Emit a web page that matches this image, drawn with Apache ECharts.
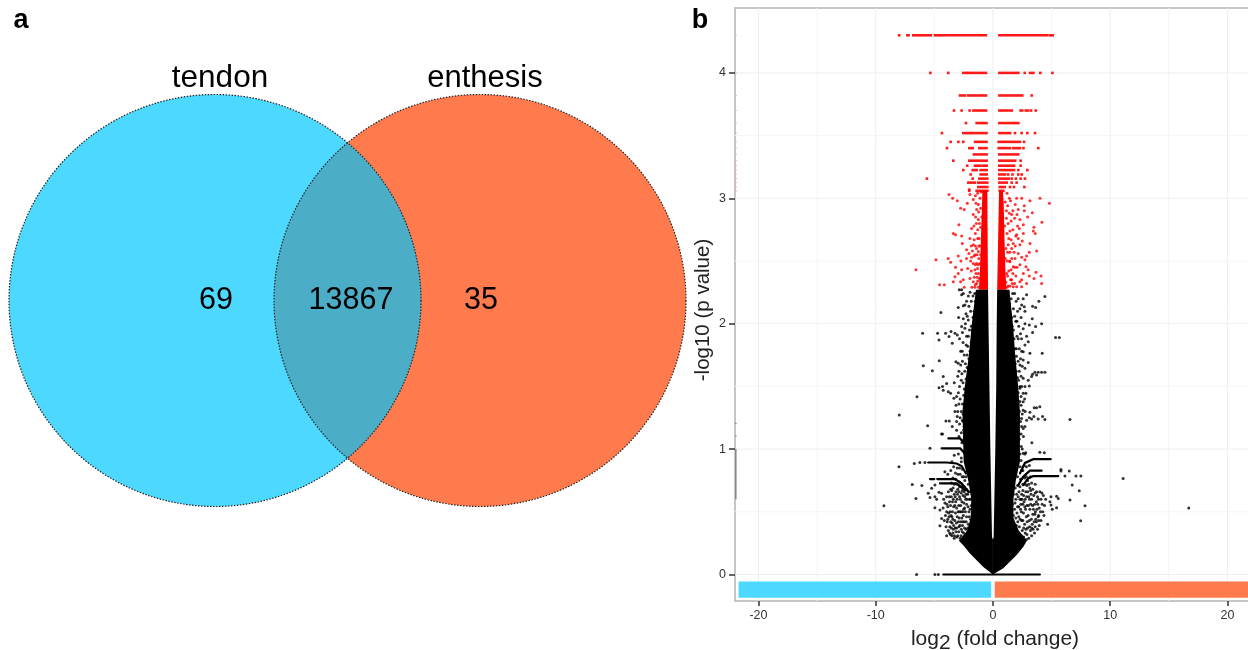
<!DOCTYPE html>
<html><head><meta charset="utf-8">
<style>html,body{margin:0;padding:0;background:#fff}#c{width:1248px;height:650px}</style>
<script src="https://cdn.jsdelivr.net/npm/echarts@6/dist/echarts.min.js"></script>
</head><body><div id="c"></div>
<script>
const vennSetNames = ['tendon', 'enthesis'];
const vennCounts = [69, 13867, 35];
const xTicks = [-20, -10, 0, 10, 20];
const yTicks = [0, 1, 2, 3, 4];
const xMinorGrid = [-15, -5, 5, 15];
const yMinorGrid = [0.5, 1.5, 2.5, 3.5];

// red rows of tied p values: [y, x from, x to]
const redRows = [
[4.30,-8.0,-8.0],[4.30,-7.3,-7.2],[4.30,-6.8,-5.3],[4.30,-4.95,-4.25],[4.30,-4.1,-0.6],[4.30,0.55,4.64],[4.30,4.87,5.1],
[4.0,-5.34,-5.34],[4.0,-3.81,-3.81],[4.0,-2.53,-2.3],[4.0,-2.15,-0.59],[4.0,0.55,2.17],[4.0,2.71,2.71],[4.0,3.16,3.45],[4.0,4.04,4.04],[4.0,5.07,5.07],
[3.82,-2.81,-2.38],[3.82,-2.1,-1.8],[3.82,-1.62,-0.59],[3.82,0.55,1.88],[3.82,2.08,2.5],[3.82,3.3,3.3],
[3.70,-3.32,-3.32],[3.70,-2.67,-2.67],[3.70,-1.99,-1.99],[3.70,-1.67,-0.59],[3.70,0.55,1.17],[3.70,1.4,1.6],[3.70,2.36,2.5],[3.70,2.8,3.0],[3.70,3.25,3.25],[3.70,3.65,3.65],
[3.60,-2.3,-2.3],[3.60,-1.39,-0.55],[3.60,0.55,2.17],
[3.52,-4.35,-4.35],[3.52,-2.53,-2.4],[3.52,-2.2,-1.96],[3.52,-1.82,-0.55],[3.52,0.55,1.46],[3.52,1.88,1.88],[3.52,2.45,2.45],[3.52,2.93,2.93],[3.52,3.59,3.59],
[3.45,-3.61,-3.61],[3.45,-2.95,-2.95],[3.45,-2.53,-2.53],[3.45,-1.53,-0.55],[3.45,0.49,2.3],[3.45,2.65,2.65],
[3.40,-3.92,-3.92],[3.40,-2.01,-1.73],[3.40,-1.16,-0.55],[3.40,0.49,1.46],[3.40,1.74,2.3],[3.40,2.6,2.6],[3.40,3.87,3.87],
[3.35,-1.62,-0.54],[3.35,0.54,2.16],
[3.30,-3.38,-3.38],[3.30,-2.02,-0.54],[3.30,0.54,1.9],[3.30,2.36,2.36],
[3.26,-2.19,-2.19],[3.26,-1.53,-1.1],[3.26,-0.88,-0.54],[3.26,0.54,1.8],[3.26,2.36,2.36],
[3.225,-2.53,-2.53],[3.225,-1.73,-1.39],[3.225,-1.05,-0.54],[3.225,0.54,1.03],[3.225,1.22,1.8],[3.225,2.16,2.16],[3.225,2.93,2.93],
[3.19,-1.9,-1.9],[3.19,-1.05,-0.54],[3.19,0.54,1.03],[3.19,1.3,1.3],[3.19,1.67,1.67],[3.19,2.16,2.16],[3.19,2.45,2.45],
[3.157,-5.63,-5.63],[3.157,-1.73,-1.73],[3.157,-1.16,-0.48],[3.157,0.54,1.35],[3.157,1.6,1.6],[3.157,1.96,1.96],[3.157,2.36,2.36],[3.157,2.73,2.73],
[3.125,-2.1,-1.53],[3.125,-1.25,-0.48],[3.125,0.54,1.17],[3.125,1.6,1.6],[3.125,2.02,2.02],
[3.09,-1.25,-0.48],[3.09,0.58,1.0],[3.09,1.45,1.45],[3.09,1.8,1.8],[3.09,2.68,2.68],
[3.06,-2.02,-2.02],[3.06,-1.39,-0.48],[3.06,0.58,0.88]
];

const redCoreLeft = [[-0.42,2.27],[-1.2,2.27],[-1.1,2.45],[-1.02,2.7],[-0.95,2.9],[-0.9,3.06],[-0.48,3.06]];
const redCoreRight = [[0.36,2.27],[1.15,2.27],[1.05,2.45],[0.98,2.7],[0.92,2.95],[0.85,3.06],[0.52,3.06]];

const redPoints = [
[-3.75,3.03],[-3.44,3.0],[-3.04,2.98],[-2.76,2.92],[-2.45,2.91],[-2.19,2.96],[-1.68,2.99],[-2.9,2.79],[-3.38,2.72],[-3.19,2.71],[-2.67,2.70],[-2.62,2.64],[-1.82,2.76],[-1.96,2.68],[-1.68,2.87],[-1.48,2.85],[-4.86,2.51],[-3.81,2.52],[-3.61,2.49],[-2.96,2.54],[-2.25,2.52],[-1.82,2.53],[-3.19,2.45],[-2.73,2.50],[-2.67,2.43],[-2.16,2.44],[-6.57,2.43],[-2.96,2.40],[-3.24,2.375],[-3.38,2.335],[-4.55,2.31],[-4.15,2.31],[-2.53,2.35],[-2.76,2.335],[-2.45,2.29],[-1.96,2.36],[-1.68,2.335],[-2.25,2.59],[-1.68,2.63],[-1.54,2.55],[-1.25,2.575],[-1.39,2.48],[-1.68,2.48],[-1.54,2.43],[-1.25,2.40],[-1.39,2.32],[-0.97,2.35],[-1.11,2.48],[-1.19,2.68],[-1.05,2.77],[-1.25,2.83],[-1.39,2.91],[-1.25,2.95],[-2.02,3.07],[-1.96,3.03],[-1.1,3.0],[-1.05,2.92],[-1.3,2.75],[-1.5,2.72],[-1.62,2.78],[-1.1,2.62],[-1.4,2.6],[-1.2,2.52],[-1.05,2.55],[-1.45,2.4],[-1.15,2.36],[-1.8,2.29],[-1.55,2.29],[-1.25,2.29],[-1.85,2.42],[-1.0,3.05],[-0.95,2.85],[-1.32,2.44],[-1.6,2.67],[-1.75,2.58],
[-1.3,3.04],[-1.5,3.02],[-1.22,2.89],[-1.45,2.96],[-1.15,2.8],[-1.42,2.8],[-1.3,2.68],[-1.5,2.62],[-1.2,2.62],[-1.35,2.55],[-1.6,2.54],[-1.5,2.47],[-1.25,2.47],[-1.35,2.37],[-1.6,2.37],[-1.3,2.34],[-1.5,2.31],[-1.9,2.5],[-2.05,2.56],[-1.85,2.62],
[4.01,3.0],[4.81,2.96],[3.16,2.98],[2.45,3.0],[2.02,3.0],[2.67,2.94],[2.67,2.9],[2.16,2.91],[3.36,2.885],[2.96,2.85],[2.3,2.83],[4.18,2.81],[3.5,2.77],[3.44,2.74],[3.61,2.72],[2.59,2.79],[2.25,2.76],[2.02,2.71],[2.59,2.72],[2.16,2.68],[1.73,2.64],[2.3,2.63],[3.16,2.64],[3.73,2.58],[3.1,2.57],[2.87,2.54],[2.73,2.51],[2.16,2.56],[2.45,2.53],[1.88,2.52],[1.45,2.57],[1.73,2.455],[2.3,2.47],[2.82,2.455],[3.67,2.41],[4.1,2.38],[3.1,2.38],[3.5,2.36],[2.59,2.4],[4.15,2.32],[2.87,2.32],[2.3,2.335],[2.02,2.295],[1.59,2.35],[1.73,2.295],[2.45,2.295],[1.17,2.4],[1.45,2.495],[1.3,2.63],[1.05,2.97],[1.25,2.94],[1.5,2.98],[1.7,2.9],[1.4,2.88],[1.15,2.84],[1.0,2.78],[1.55,2.82],[1.85,2.84],[1.2,2.72],[1.45,2.74],[1.7,2.75],[1.1,2.6],[1.55,2.67],[1.9,2.62],[1.2,2.5],[1.6,2.52],[2.05,2.45],[1.35,2.42],[1.95,2.38],[1.1,2.33],[1.3,2.3],[1.85,2.32],[1.55,2.43],[1.05,2.52],[2.1,2.78],[1.9,2.95],[2.5,2.66],[3.0,2.43],
[1.2,3.04],[1.4,3.0],[1.15,2.9],[1.3,2.8],[1.6,2.87],[1.35,2.68],[1.6,2.6],[1.25,2.57],[1.8,2.57],[1.4,2.5],[1.7,2.4],[1.25,2.38],[1.5,2.35],[1.2,2.29],[1.45,2.3],[1.65,2.32],[1.85,2.45],[1.95,2.7],[2.05,2.87],[2.45,2.35]
];

const blackCoreLeft = [[0,0],[-0.82,0.06],[-1.96,0.168],[-2.53,0.234],[-2.9,0.27],[-2.2,0.35],[-1.9,0.45],[-1.85,0.6],[-2.1,0.75],[-2.5,0.9],[-2.55,1.1],[-2.6,1.3],[-2.4,1.5],[-2.05,1.75],[-1.8,2.0],[-1.45,2.27],[-0.42,2.27],[-0.38,2.0],[-0.3,1.5],[-0.22,1.0],[-0.14,0.6],[-0.08,0.3],[0,0.28]];
const blackCoreRight = [[0,0],[0.88,0.05],[2.02,0.155],[2.58,0.22],[2.9,0.27],[2.2,0.35],[1.75,0.45],[1.75,0.6],[1.95,0.75],[2.3,0.9],[2.3,1.1],[2.3,1.3],[2.15,1.5],[1.9,1.75],[1.7,2.0],[1.4,2.27],[0.36,2.27],[0.32,2.0],[0.28,1.5],[0.2,1.0],[0.12,0.6],[0.06,0.3],[0,0.28]];

// tails of tied p values, as polylines of [x, y]
const blackTails = [
[[-5.52,0.893],[-3.95,0.893],[-3.1,0.885],[-2.67,0.865],[-2.3,0.806]],
[[-5.37,0.761],[-5.0,0.761]],
[[-4.75,0.761],[-3.24,0.761],[-2.67,0.727],[-2.1,0.66]],
[[-4.52,0.727],[-3.1,0.727],[-2.39,0.673]],
[[-4.38,1.006],[-2.8,1.006],[-2.53,0.979],[-2.19,0.926]],
[[-3.8,1.085],[-2.8,1.085],[-2.3,1.03]],
[[-4.24,0],[4.0,0]],
[[4.92,0.92],[3.44,0.92],[2.73,0.89],[2.3,0.806]],
[[4.15,0.828],[3.15,0.828],[2.58,0.78],[2.16,0.713]],
[[5.57,0.785],[3.44,0.785],[3.0,0.766],[2.58,0.713]]
];

const blackPoints = [
// far points
[11.1,0.765],[16.7,0.53],[-9.3,0.548],[7.85,0.548],[7.48,0.429],[7.5,0.785],[7.08,0.785],[7.36,0.668],[6.76,0.713],[6.57,0.594],[6.14,0.785],[6.51,0.825],[5.8,0.838],[5.8,0.825],[-8.02,0.86],[-7.99,1.272],[6.57,1.237],[5.34,1.89],[5.66,1.89],[-6.51,0],[-4.95,0],[-4.66,0],
// lower left fringe
[-6.71,0.886],[-6.23,0.894],[-5.8,0.894],[-5.37,1.006],[-6.88,0.718],[-6.06,0.71],[-6.57,0.607],[-4.95,0.62],[-5.37,0.615],[-5.52,0.647],[-5.23,0.687],[-4.95,0.713],[-4.38,0.647],[-4.8,0.6],[-4.95,0.532],[-4.52,0.389],[-4.52,0.514],[-4.38,0.447],[-4.3,1.12],[-4.6,0.655],[-4.2,0.6],[-4.1,0.57],[-4.25,0.53],[-3.95,0.62],[-3.8,0.66],[-3.6,0.68],[-3.4,0.69],[-3.95,0.5],[-4.05,0.47],[-3.85,0.54],[-3.7,0.58],[-3.55,0.62],[-3.3,0.64],[-3.15,0.66],[-3.0,0.68],[-2.85,0.7],[-2.6,0.71],[-2.4,0.62],[-2.25,0.68],[-2.1,0.72],[-1.95,0.75],[-3.9,0.42],[-4.0,0.38],[-3.8,0.35],[-3.95,0.31],[-3.7,0.33],[-3.5,0.31],[-3.3,0.29],[-3.6,0.42],[-3.75,0.46],[-3.45,0.5],[-3.25,0.55],[-3.05,0.6],[-2.85,0.62],[-2.65,0.58],[-2.5,0.52],[-2.25,0.56],[-2.0,0.6],[-1.85,0.66],[-3.55,0.37],[-3.35,0.39],[-3.15,0.34],[-3.0,0.31],[-2.8,0.29],[-3.25,0.43],[-3.05,0.46],[-2.85,0.5],[-2.65,0.45],[-2.45,0.42],[-2.25,0.46],[-2.05,0.5],[-1.85,0.55],[-1.7,0.6],[-2.9,0.38],[-2.7,0.36],[-2.5,0.33],[-2.3,0.36],[-2.1,0.4],[-1.9,0.44],[-3.1,0.53],[-2.75,0.55],[-2.35,0.5],[-3.45,0.58],[-3.65,0.5],[-4.15,0.43],[-3.2,0.49],[-2.55,0.63],[-2.15,0.64],[-1.8,0.4],[-1.7,0.49],[-1.6,0.66],[-2.95,0.42],[-2.6,0.39],[-3.5,0.46],[-2.7,0.65],[-3.3,0.72],[-3.55,0.73],[-2.9,0.74],[-2.5,0.78],[-2.8,0.8],[-3.2,0.81],[-2.6,0.84],[-3.05,0.85],[-3.6,0.83],[-4.1,0.82],[-3.85,0.8],[-2.95,0.96],[-3.3,0.95],[-2.7,0.93],[-2.55,1.07],[-3.1,1.15],[-2.7,1.13],[-2.45,1.18],
[-3.92,0.56],[-3.78,0.49],[-3.62,0.55],[-3.58,0.47],[-3.42,0.44],[-3.38,0.36],[-3.22,0.37],[-3.12,0.41],[-3.08,0.3],[-2.92,0.34],[-2.88,0.45],[-2.72,0.31],[-2.62,0.34],[-2.58,0.42],[-2.42,0.37],[-2.38,0.31],[-2.28,0.42],[-2.15,0.37],[-2.02,0.46],[-1.95,0.52],[-2.12,0.54],[-2.32,0.6],[-2.48,0.57],[-2.58,0.5],[-2.72,0.5],[-2.92,0.55],[-2.98,0.5],[-3.18,0.58],[-3.35,0.54],[-3.48,0.41],[-3.68,0.38],[-3.85,0.44],[-3.72,0.62],[-3.52,0.67],[-3.38,0.6],[-3.22,0.62],[-3.02,0.64],[-2.9,0.66],[-2.78,0.6],[-2.62,0.67],[-2.45,0.66],[-2.3,0.64],[-2.2,0.6],[-2.05,0.66],[-1.92,0.6],[-2.75,0.42],[-2.52,0.47],[-2.42,0.53],[-3.1,0.37],[-2.82,0.39],[-3.28,0.31],[-3.62,0.32],[-3.42,0.33],[-2.55,0.28],[-2.45,0.7],[-2.75,0.73],[-3.05,0.72],[-3.18,0.76],[-3.42,0.77],[-2.62,0.78],[-2.4,0.75],[-2.3,0.78],[-3.0,0.8],[-2.85,0.85],[-2.7,0.9],[-3.35,0.86],[-3.5,0.9],
// mid left fringe
[-4.44,2.09],[-6.0,1.924],[-4.72,1.924],[-4.6,1.87],[-4.04,1.924],[-3.75,1.897],[-3.58,1.937],[-3.47,1.844],[-3.24,1.924],[-3.04,1.91],[-5.94,1.665],[-4.58,1.705],[-5.17,1.625],[-4.24,1.578],[-3.95,1.524],[-4.6,1.49],[-4.24,1.47],[-4.3,1.5],[-6.48,1.418],[-5.57,1.187],[-4.38,1.12],[-3.81,1.458],[-3.61,1.445],[-3.33,1.405],[-3.24,1.3],[-4.01,1.224],[-3.72,1.224],[-3.47,1.18],[-3.16,1.697],[-2.96,1.684],[-2.87,2.27],[-2.67,2.27],[-2.53,2.24],[-2.67,2.23],[-2.96,2.13],[-2.93,2.05],[-2.53,2.144],[-2.39,2.15],[-2.3,2.08],[-2.19,2.06],[-2.53,2.04],[-2.1,2.03],[-2.67,1.977],[-2.39,1.963],[-2.0,1.95],[-2.25,1.9],[-2.85,1.88],[-2.55,1.85],[-2.15,1.82],[-1.85,1.85],[-2.75,1.78],[-2.45,1.75],[-2.05,1.72],[-1.75,1.95],[-1.6,2.1],[-1.85,2.18],[-2.1,2.22],[-1.55,2.24],[-1.45,1.97],[-1.7,2.05],[-2.9,1.62],[-2.65,1.6],[-2.85,1.5],[-2.55,1.53],[-2.3,1.56],[-3.1,1.42],[-2.8,1.4],[-2.5,1.43],[-2.2,1.42],[-3.0,1.3],[-2.7,1.3],[-2.45,1.32],[-3.3,1.53],[-3.0,1.58],[-2.2,1.65],[-1.95,1.62],[-3.1,1.22],[-2.85,1.2],[-2.6,1.23],[-1.6,1.7],[-2.35,1.68],[-2.6,1.7],
[-1.35,2.25],[-1.5,2.18],[-1.7,2.22],[-1.95,2.25],[-2.25,2.18],[-1.38,2.12],[-1.55,2.02],[-1.9,2.1],[-2.05,2.14],[-1.65,1.92],[-1.85,1.98],[-2.1,1.9],[-2.35,2.0],[-1.55,1.83],[-1.72,1.8],[-1.95,1.78],[-2.28,1.83],[-2.6,1.93],[-1.85,1.7],[-2.2,1.75],[-2.62,1.78],[-1.95,1.55],[-2.1,1.6],[-2.4,1.62],[-2.75,1.67],[-2.2,1.5],[-2.45,1.48],[-2.7,1.55],[-2.95,1.45],[-2.35,1.38],[-2.6,1.36],[-2.9,1.36],[-3.15,1.35],[-2.55,1.28],[-2.8,1.25],[-3.05,1.26],[-2.5,1.15],[-2.9,1.1],[-2.65,1.05],[-2.45,0.98],[-2.55,1.22],
// lower right fringe
[4.0,0.974],[4.38,0.971],[3.32,1.05],[2.58,0.966],[2.8,0.97],[5.43,0.625],[5.57,0.607],[4.95,0.62],[4.86,0.58],[4.95,0.554],[5.06,0.52],[5.43,0.532],[4.66,0.4],[4.5,0.6],[4.3,0.63],[4.4,0.55],[4.25,0.5],[4.35,0.47],[4.1,0.43],[3.95,0.39],[3.8,0.36],[3.55,0.33],[3.3,0.31],[3.05,0.29],[2.85,0.28],[4.1,0.6],[4.0,0.66],[3.8,0.62],[3.6,0.65],[3.4,0.68],[3.15,0.69],[2.9,0.71],[3.95,0.53],[3.75,0.52],[3.55,0.56],[3.3,0.6],[3.05,0.62],[2.8,0.66],[2.55,0.67],[2.3,0.7],[2.1,0.71],[1.9,0.69],[3.85,0.46],[3.65,0.44],[3.4,0.48],[3.15,0.52],[2.9,0.55],[2.65,0.58],[2.4,0.6],[2.15,0.62],[1.95,0.6],[1.75,0.64],[3.6,0.38],[3.35,0.4],[3.1,0.43],[2.85,0.46],[2.6,0.49],[2.35,0.52],[2.1,0.54],[1.85,0.52],[1.65,0.56],[3.2,0.35],[2.95,0.37],[2.7,0.4],[2.45,0.43],[2.2,0.46],[1.95,0.45],[1.75,0.47],[2.75,0.33],[2.5,0.35],[2.25,0.38],[2.0,0.39],[3.45,0.52],[3.0,0.47],[2.55,0.56],[2.2,0.54],[3.7,0.58],[3.25,0.64],[2.75,0.6],[4.2,0.56],[3.9,0.47],[2.45,0.64],[2.95,0.75],[3.3,0.73],[2.7,0.77],[3.6,0.72],[2.45,0.83],[2.3,0.96],[2.65,0.87],[2.4,0.91],[3.1,0.87],[2.5,1.0],[2.25,1.08],[2.4,1.12],[2.6,1.1],[2.15,1.17],
[3.82,0.56],[3.62,0.5],[3.52,0.42],[3.42,0.36],[3.28,0.44],[3.22,0.56],[3.12,0.38],[3.02,0.55],[2.92,0.42],[2.82,0.36],[2.78,0.52],[2.62,0.37],[2.55,0.43],[2.42,0.5],[2.32,0.44],[2.12,0.42],[2.05,0.49],[1.88,0.57],[2.02,0.64],[2.22,0.66],[2.38,0.56],[2.48,0.6],[2.62,0.63],[2.72,0.54],[2.88,0.62],[2.98,0.66],[3.12,0.6],[3.22,0.67],[3.38,0.55],[3.48,0.63],[3.58,0.48],[3.72,0.66],[3.88,0.6],[4.05,0.5],[4.18,0.65],[3.7,0.42],[3.9,0.43],[3.3,0.37],[2.9,0.32],[2.62,0.3],[2.42,0.31],[2.2,0.33],[2.3,0.6],[2.55,0.72],[2.75,0.72],[2.85,0.78],[3.05,0.72],[3.18,0.78],[2.35,0.76],[2.1,0.78],[2.55,0.83],[2.85,0.86],[2.42,1.02],[2.72,0.96],[2.32,0.86],
// mid right fringe
[4.43,2.216],[3.92,2.18],[2.87,2.23],[2.58,2.2],[3.38,2.14],[3.64,2.13],[2.67,2.136],[2.45,2.15],[2.73,2.1],[2.3,2.12],[3.35,2.04],[4.15,2.0],[3.64,1.977],[3.1,1.99],[2.73,2.0],[3.38,1.93],[2.58,1.96],[2.87,1.9],[2.44,1.88],[3.01,1.857],[2.73,1.83],[3.15,1.764],[4.2,1.764],[2.58,1.777],[3.01,1.69],[2.58,1.71],[2.3,1.67],[2.73,1.644],[3.58,1.612],[3.86,1.612],[4.15,1.612],[4.43,1.612],[3.38,1.596],[3.3,1.578],[3.72,1.59],[3.01,1.55],[2.58,1.565],[2.73,1.5],[3.1,1.503],[2.58,1.445],[2.81,1.445],[2.3,1.485],[2.58,1.378],[4.0,1.338],[3.72,1.33],[3.52,1.33],[3.15,1.293],[3.49,1.26],[3.1,1.25],[3.3,1.24],[3.86,1.24],[4.23,1.26],[4.43,1.237],[2.87,1.23],[2.73,1.18],[2.58,1.165],[2.44,1.245],[2.58,1.31],[2.3,1.38],[2.15,2.2],[1.85,2.24],[1.55,2.2],[2.1,2.1],[1.75,2.12],[1.45,2.08],[1.95,2.02],[2.2,1.98],[1.65,1.98],[2.35,1.92],[2.05,1.9],[1.8,1.88],[1.55,1.92],[2.25,1.8],[2.0,1.8],[1.75,1.76],[2.15,1.7],[1.9,1.68],[2.4,1.58],[2.1,1.57],[1.85,1.56],[2.3,1.5],[2.05,1.45],[2.25,1.3],[2.4,1.42],[2.15,1.36],[2.35,1.22],
[1.3,2.25],[1.42,2.16],[1.68,2.24],[1.98,2.18],[1.28,2.1],[1.6,2.05],[1.85,2.06],[2.05,2.02],[1.5,1.97],[1.75,1.95],[2.4,2.05],[1.62,1.85],[1.9,1.8],[2.15,1.88],[2.45,1.78],[1.7,1.7],[2.0,1.74],[2.35,1.72],[1.75,1.63],[1.98,1.62],[2.25,1.62],[2.5,1.66],[1.98,1.52],[2.18,1.55],[2.45,1.5],[2.15,1.45],[2.4,1.35],[2.7,1.4],[2.2,1.25],[2.5,1.28],[2.75,1.3],[2.2,1.12],[2.45,1.18],[2.15,1.02],[2.05,1.35]
];

const rugGrey = [[0.6, 1.0], [1.1, 1.11], [1.2, 1.21]];
const blueBar = [-21.7, -0.15];
const orangeBar = [0.15, 21.85];
const barBand = [-0.185, -0.055];

const ink = '#333';
const blue = '#4DD8FF', orange = '#FF7A4D', lens = '#4BADC6';
const venn = {r: 206, cx1: 215, cx2: 480, cy: 300.5};

function segs(data, style, z, pad) {
  return {type:'custom', xAxisIndex:0, yAxisIndex:0, z, silent:true, clip:true, animation:false,
    data, renderItem(p, api){
      const a = api.coord([api.value(0), api.value(1)]), b = api.coord([api.value(2), api.value(3)]);
      const e = pad || 0;
      return {type:'line', shape:{x1:a[0]-e,y1:a[1],x2:b[0]+e,y2:b[1]}, style};
    }};
}
function poly(points, fill, z) {
  return {type:'custom', xAxisIndex:0, yAxisIndex:0, z, silent:true, animation:false,
    data:[[0,0]], renderItem(p, api){
      return {type:'polygon', shape:{points:points.map(q=>api.coord(q))}, style:{fill}};
    }};
}
function polyline(points, z) {
  return {type:'custom', xAxisIndex:0, yAxisIndex:0, z, silent:true, animation:false,
    data:[[0,0]], renderItem(p, api){
      return {type:'polyline', shape:{points:points.map(q=>api.coord(q))}, style:{stroke:'#000', lineWidth:2.2, fill:null, lineCap:'round'}};
    }};
}
function bar(range, color) {
  return {type:'custom', xAxisIndex:0, yAxisIndex:0, z:6, silent:true, animation:false,
    data:[[range[0],barBand[0],range[1],barBand[1]]], renderItem(p, api){
      const a = api.coord([api.value(0),api.value(3)]), b = api.coord([api.value(2),api.value(1)]);
      return {type:'rect', shape:{x:a[0],y:a[1],width:b[0]-a[0],height:b[1]-a[1]}, style:{fill:color}};
    }};
}
function vennSeries() {
  return {type:'custom', xAxisIndex:1, yAxisIndex:1, z:3, silent:true, animation:false, clip:false,
    data:[[venn.cx1, venn.cy]], renderItem(p, api){
      const c1 = api.coord([venn.cx1, venn.cy]), c2 = api.coord([venn.cx2, venn.cy]);
      const r = venn.r, h = (c2[0]-c1[0])/2, mx = (c1[0]+c2[0])/2, dy = Math.sqrt(r*r-h*h);
      const dash = {stroke:'#222', lineWidth:1.2, lineDash:[1.5,1.5]};
      return {type:'group', children:[
        {type:'circle', shape:{cx:c2[0],cy:c2[1],r}, style:{fill:orange}},
        {type:'circle', shape:{cx:c1[0],cy:c1[1],r}, style:{fill:blue}},
        {type:'path', shape:{pathData:`M${mx} ${c1[1]-dy}A${r} ${r} 0 0 1 ${mx} ${c1[1]+dy}A${r} ${r} 0 0 1 ${mx} ${c1[1]-dy}Z`}, style:{fill:lens}},
        {type:'circle', shape:{cx:c1[0],cy:c1[1],r}, style:Object.assign({fill:null},dash)},
        {type:'circle', shape:{cx:c2[0],cy:c2[1],r}, style:Object.assign({fill:null},dash)}
      ]};
    }};
}

const font = '"Liberation Sans", Arial, sans-serif';
function txt(t, x, y, size, weight) {
  return {type:'text', x, y, style:{text:String(t), x:0, y:0, align:'center', verticalAlign:'middle', fontFamily:font, fontSize:size, fontWeight:weight||'normal', fill:'#000'}, z:20};
}

const chart = echarts.init(document.getElementById('c'), null, {renderer:'canvas'});
chart.setOption({
  animation:false, backgroundColor:'#fff',
  grid:[
    {left:735, top:8, width:520, height:593, show:true, borderColor:'#b4b4b4', borderWidth:1.5, backgroundColor:'#fff', z:0, outerBoundsMode:'none', containLabel:false},
    {left:0, top:0, width:690, height:650, show:false, outerBoundsMode:'none'}
  ],
  xAxis:[
    {type:'value', gridIndex:0, min:-22, max:22.35, position:'bottom',
      name:'log{s|2} (fold change)', nameLocation:'middle', nameGap:24,
      nameTextStyle:{fontFamily:font, fontSize:21, color:'#222', rich:{s:{fontFamily:font, fontSize:21, color:'#222', padding:[8,0,0,0]}}},
      axisLine:{show:false, onZero:false}, splitLine:{show:false},
      axisTick:{show:true, length:5, customValues:xTicks, lineStyle:{color:ink, width:1.5}},
      axisLabel:{customValues:xTicks, fontFamily:font, fontSize:12.5, color:'#333', margin:8, showMinLabel:true, showMaxLabel:true}},
    {type:'value', gridIndex:1, min:0, max:690, show:false}
  ],
  yAxis:[
    {type:'value', gridIndex:0, min:-0.2113, max:4.5176, position:'left',
      name:'-log10 (p value)', nameLocation:'middle', nameGap:21,
      nameTextStyle:{fontFamily:font, fontSize:20.5, color:'#222', padding:[0,11,0,0]},
      axisLine:{show:false, onZero:false}, splitLine:{show:false},
      axisTick:{show:true, length:6, customValues:yTicks, lineStyle:{color:ink, width:1.5}},
      axisLabel:{customValues:yTicks, fontFamily:font, fontSize:12.5, color:'#333', margin:9, showMinLabel:true, showMaxLabel:true}},
    {type:'value', gridIndex:1, min:0, max:650, inverse:true, show:false}
  ],
  graphic:[
    txt(vennSetNames[0], 220, 78, 31.5), txt(vennSetNames[1], 485, 78, 31),
    txt(vennCounts[0], 216, 301, 30.5), txt(vennCounts[1], 351, 301, 30.5), txt(vennCounts[2], 481, 301, 30.5),
    txt('a', 21, 21, 27, 'bold'), txt('b', 700, 21, 27, 'bold')
  ],
  series:[
    vennSeries(),
    segs(xMinorGrid.map(x=>[x,-0.2113,x,4.5176]), {stroke:'#f5f5f5', lineWidth:1}, 1),
    segs(yMinorGrid.map(y=>[-22,y,22.35,y]), {stroke:'#f5f5f5', lineWidth:1}, 1),
    segs(xTicks.map(x=>[x,-0.2113,x,4.5176]), {stroke:'#eeeeee', lineWidth:1}, 1),
    segs(yTicks.map(y=>[-22,y,22.35,y]), {stroke:'#eeeeee', lineWidth:1}, 1),
    segs(redRows.map(r=>[r[1],r[0],r[2],r[0]]), {stroke:'#ff1a1a', lineWidth:2.6}, 4, 1.3),
    segs([...new Set(redRows.map(r=>r[0]))].map(y=>[-22,y,-21.85,y]), {stroke:'#ff9a9a', lineWidth:1}, 5),
    segs(rugGrey.map(r=>[-21.95,r[0],-21.95,r[1]]), {stroke:'#8a8a8a', lineWidth:2}, 5),
    poly(redCoreLeft,'#ff0000',4), poly(redCoreRight,'#ff0000',4),
    {type:'scatter', xAxisIndex:0, yAxisIndex:0, z:4, symbolSize:3, silent:true, animation:false, itemStyle:{color:'#ff0000'}, data:redPoints},
    poly(blackCoreLeft,'#000',5), poly(blackCoreRight,'#000',5),
    ...blackTails.map(t=>polyline(t,5)),
    {type:'scatter', xAxisIndex:0, yAxisIndex:0, z:5, symbolSize:3, silent:true, animation:false, itemStyle:{color:'#000'}, data:blackPoints},
    bar(blueBar, blue), bar(orangeBar, orange)
  ]
});
</script></body></html>
